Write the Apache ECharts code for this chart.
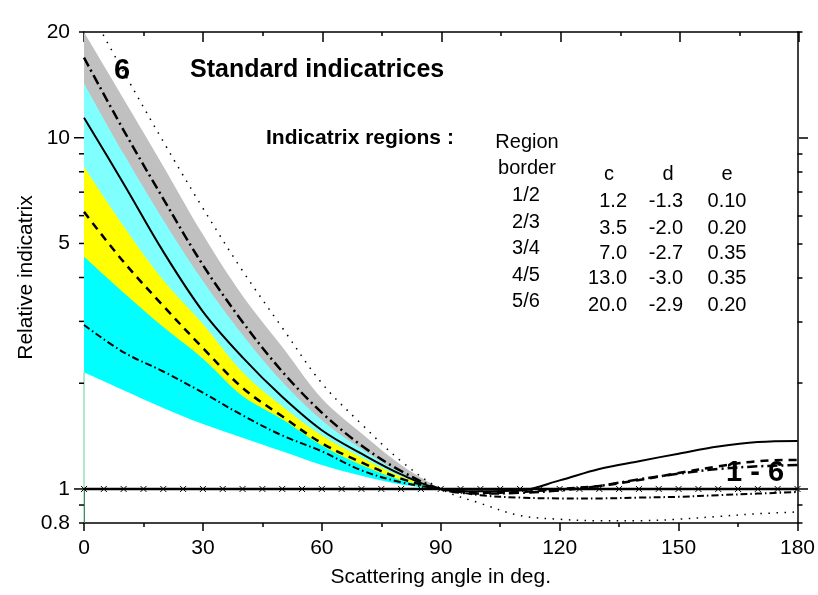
<!DOCTYPE html>
<html>
<head>
<meta charset="utf-8">
<script src="https://cdn.jsdelivr.net/npm/echarts@6/dist/echarts.min.js"></script>
<style>
html, body { margin: 0; padding: 0; background: #fff; }
#chart { width: 818px; height: 595px; }
</style>
</head>
<body>
<div id="chart"></div>
<script>
// scattering angles (deg.)
const angles = [0, 10, 20, 30, 40, 50, 60, 70, 80, 90, 100, 110, 120, 130, 140, 150, 160, 170, 180]
const bandAngles = [0, 10, 20, 30, 40, 50, 60, 70, 80, 90]
const markerAngles = [0, 5, 10, 15, 20, 25, 30, 35, 40, 45, 50, 55, 60, 65, 70, 75, 80, 85, 90,
  95, 100, 105, 110, 115, 120, 125, 130, 135, 140, 145, 150, 155, 160, 165, 170, 175, 180]

// region borders
const border12 = [2.15, 1.91, 1.70, 1.53, 1.40, 1.28, 1.17, 1.09, 1.03, 1.0]
const border23 = [4.58, 3.62, 2.89, 2.35, 1.84, 1.58, 1.33, 1.17, 1.06, 1.0]
const border34 = [8.27, 5.6, 3.93, 2.95, 2.15, 1.72, 1.42, 1.23, 1.085, 1.0]
const border45 = [14.3, 9.0, 5.83, 3.91, 2.75, 2.02, 1.57, 1.30, 1.11, 1.0]
const border56 = [20, 12.9, 8.3, 5.3, 3.55, 2.54, 1.81, 1.44, 1.17, 1.0]

// standard indicatrices 1..6
const line1Value = 1
const line2 = [2.93, 2.45, 2.16, 1.88, 1.62, 1.42, 1.28, 1.13, 1.045, 1.0, 0.96, 0.945, 0.94, 0.94, 0.945, 0.95, 0.96, 0.97, 0.98]
const line3 = [6.15, 4.43, 3.32, 2.52, 1.94, 1.61, 1.35, 1.19, 1.07, 1.0, 0.975, 0.98, 1.0, 1.02, 1.06, 1.11, 1.16, 1.20, 1.21]
const line4 = [11.4, 7.4, 4.74, 3.2, 2.37, 1.83, 1.47, 1.26, 1.10, 1.0, 0.985, 0.99, 1.058, 1.14, 1.20, 1.26, 1.32, 1.36, 1.37]
const line5 = [16.9, 10.5, 6.7, 4.34, 2.99, 2.16, 1.65, 1.33, 1.125, 1.0, 0.97, 0.975, 0.99, 1.02, 1.065, 1.105, 1.14, 1.16, 1.17]
const line6 = [24.7, 15.4, 9.75, 6.3, 4.18, 2.88, 2.0, 1.53, 1.20, 1.0, 0.91, 0.84, 0.82, 0.812, 0.812, 0.82, 0.835, 0.85, 0.86]

// axis ticks and labels
const yLabels = [0.8, 1, 5, 10, 20]
const yMajorTicks = [1, 10]
const yMinorTicks = [0.8, 0.9, 2, 3, 4, 5, 6, 7, 8, 9, 20]

// table
const borderNames = ['1/2', '2/3', '3/4', '4/5', '5/6']
const cValues = ['1.2', '3.5', '7.0', '13.0', '20.0']
const dValues = ['-1.3', '-2.0', '-2.7', '-3.0', '-2.9']
const eValues = ['0.10', '0.20', '0.35', '0.35', '0.20']

const FONT = "'Liberation Sans', Arial, sans-serif"
const pairs = (xs, ys) => xs.map((x, i) => [x, ys[i]])

const band = (data, color) => ({
  type: 'line',
  data: pairs(bandAngles, data),
  smooth: 0.35,
  symbol: 'none',
  lineStyle: { width: 0 },
  areaStyle: { color: color, opacity: 1, origin: 1 },
  silent: true,
  animation: false
})

const curve = (data, width, type) => ({
  type: 'line',
  data: pairs(angles, data),
  smooth: 0.35,
  symbol: 'none',
  lineStyle: { color: '#000', width: width, type: type },
  silent: true,
  animation: false
})

const lineOf = (show) => ({ show: show, onZero: false, lineStyle: { color: '#000', width: 1.5 } })
const ticks = (values, length) => ({
  show: true, customValues: values, length: length,
  lineStyle: { color: '#000', width: 1.5 }
})

const logAxis = (grid, position, line, tick, extra) => Object.assign({
  type: 'log',
  gridIndex: grid,
  position: position,
  min: 0.8,
  max: 20,
  axisLine: line,
  axisTick: tick,
  axisLabel: { show: false },
  splitLine: { show: false }
}, extra || {})

const text = (str, x, y, size, bold, align) => ({
  type: 'text',
  x: x,
  y: y,
  silent: true,
  style: {
    text: str,
    font: (bold ? 'bold ' : '') + size + 'px ' + FONT,
    fill: '#000',
    textAlign: align || 'left',
    textVerticalAlign: 'middle'
  }
})

const graphics = [
  text('Standard indicatrices', 190, 70, 25, true),
  text('6', 122, 71, 29, true, 'center'),
  text('5', 120, 119, 29, true, 'center'),
  text('4', 120, 182, 29, true, 'center'),
  text('3', 121, 258, 29, true, 'center'),
  text('2', 122, 331, 29, true, 'center'),
  text('1', 117, 468, 29, true, 'center'),
  text('1 - 6', 755, 473, 29, true, 'center'),
  text('Indicatrix regions :', 266, 138, 21, true),
  text('Region', 527, 142, 20, false, 'center'),
  text('border', 527, 168, 20, false, 'center'),
  text('c', 609, 174, 20, false, 'center'),
  text('d', 668, 174, 20, false, 'center'),
  text('e', 727, 174, 20, false, 'center')
]
const borderRowY = [195.5, 222.5, 248.5, 275, 301.5]
const valueRowY = [201.5, 228, 253.5, 278.5, 305]
borderNames.forEach((s, i) => graphics.push(text(s, 526, borderRowY[i], 20, false, 'center')))
cValues.forEach((s, i) => graphics.push(text(s, 627, valueRowY[i], 20, false, 'right')))
dValues.forEach((s, i) => graphics.push(text(s, 666, valueRowY[i], 20, false, 'center')))
eValues.forEach((s, i) => graphics.push(text(s, 727, valueRowY[i], 20, false, 'center')))

const chart = echarts.init(document.getElementById('chart'))

const gridBox = () => ({ left: 84, right: 19, top: 32, bottom: 72 })

// left-hand tick marks, placed through the log scale of the y axis
const leftTicks = yMinorTicks.map(v => [0, v, 5]).concat(yMajorTicks.map(v => [0, v, 10]))

const option = {
  backgroundColor: '#fff',
  animation: false,
  grid: [gridBox(), gridBox()],
  xAxis: [
    {
      type: 'value',
      gridIndex: 0,
      position: 'bottom',
      min: 0,
      max: 180,
      interval: 30,
      axisLine: lineOf(true),
      axisTick: { length: 8, lineStyle: { color: '#000', width: 1.5 } },
      minorTick: { show: true, splitNumber: 2, length: 4, lineStyle: { color: '#000', width: 1.5 } },
      axisLabel: { color: '#000', fontSize: 21, fontFamily: FONT, margin: 15 },
      splitLine: { show: false },
      name: 'Scattering angle in deg.',
      nameLocation: 'middle',
      nameGap: 44,
      nameTextStyle: { color: '#000', fontSize: 21, fontFamily: FONT }
    },
    {
      type: 'value',
      gridIndex: 1,
      position: 'top',
      min: 0,
      max: 180,
      interval: 30,
      axisLine: lineOf(true),
      axisTick: { inside: true, length: 10, lineStyle: { color: '#000', width: 1.5 } },
      minorTick: { show: true, splitNumber: 2, length: 4, lineStyle: { color: '#000', width: 1.5 } },
      axisLabel: { show: false },
      splitLine: { show: false }
    }
  ],
  yAxis: [
    logAxis(0, 'left', { show: true, onZero: false, lineStyle: { color: '#000', width: 1 } }, { show: false }, {
      axisLabel: { customValues: yLabels, color: '#000', fontSize: 21, fontFamily: FONT, margin: 14 },
      name: 'Relative indicatrix',
      nameLocation: 'middle',
      nameGap: 47,
      nameMoveOverlap: false,
      nameTextStyle: { color: '#000', fontSize: 21, fontFamily: FONT }
    }),
    logAxis(0, 'right', lineOf(true), ticks(yMinorTicks, 5)),
    logAxis(1, 'right', lineOf(false), ticks(yMajorTicks, 9))
  ],
  series: [
    band(border56, '#c0c0c0'),
    band(border45, '#80ffff'),
    band(border34, '#ffff00'),
    band(border23, '#00ffff'),
    band(border12, '#ffffff'),
    {
      type: 'line',
      data: [[0, 0.8], [0, border12[0]]],
      symbol: 'none',
      lineStyle: { color: '#7fd8a8', width: 1.2 },
      silent: true,
      animation: false
    },
    curve(line6, 1.5, [1.5, 6.5]),
    curve(line5, 2.5, [10, 4, 2, 4]),
    curve(line4, 2, 'solid'),
    curve(line3, 2.5, [8, 6]),
    curve(line2, 2, [7, 3, 1.5, 3]),
    {
      type: 'line',
      data: markerAngles.map(a => [a, line1Value]),
      symbol: 'path://M0,0L10,10M10,0L0,10',
      symbolSize: 6,
      showAllSymbol: true,
      lineStyle: { color: '#000', width: 2.5 },
      itemStyle: { color: 'rgba(0,0,0,0)', borderColor: '#000', borderWidth: 1 },
      silent: true,
      animation: false
    },
    {
      type: 'custom',
      data: leftTicks,
      clip: false,
      silent: true,
      animation: false,
      z: 10,
      encode: { x: 0, y: 1 },
      renderItem: (params, api) => {
        const p = api.coord([api.value(0), api.value(1)])
        const len = api.value(2)
        return {
          type: 'line',
          shape: { x1: p[0] - len, y1: p[1], x2: p[0], y2: p[1] },
          style: { stroke: '#000', lineWidth: 1.5 }
        }
      }
    }
  ],
  graphic: graphics
}

chart.setOption(option)
</script>
</body>
</html>
